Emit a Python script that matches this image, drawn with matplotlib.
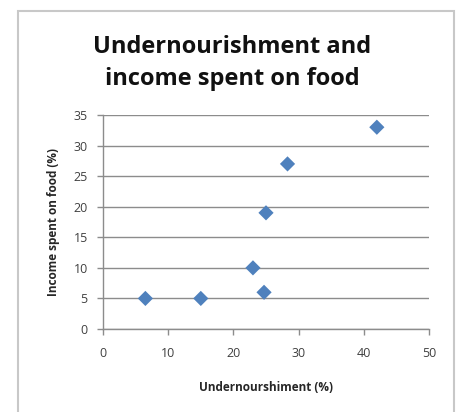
import matplotlib
matplotlib.use("Agg")
import matplotlib.pyplot as plt
from matplotlib.patches import Rectangle

undernourishment = [6.5, 15.0, 23.0, 24.7, 25.0, 28.3, 42.0]
income_food = [5, 5, 10, 6, 19, 27, 33]
x_ticks = [0, 10, 20, 30, 40, 50]
y_ticks = [0, 5, 10, 15, 20, 25, 30, 35]

title = "Undernourishment and\nincome spent on food"
xlabel = "Undernourshiment (%)"
ylabel = "Income spent on food (%)"

plt.rcParams['font.family'] = ['Open Sans', 'DejaVu Sans']

fig = plt.figure(figsize=(4.58, 4.12), dpi=100)
W, H = 458, 412

# chart border
fig.patches.append(Rectangle((18 / W, -0.01), (454 - 18) / W, (H - 11) / H + 0.01,
                             transform=fig.transFigure, fill=False,
                             edgecolor="#c8c8c8", linewidth=1.5))

ax = fig.add_axes([103 / W, 1 - 329 / H, (429 - 103) / W, (329 - 115) / H])
ax.scatter(undernourishment, income_food, marker="D", s=60, color="#4F81BD",
           edgecolors="none", zorder=3)
ax.set_xlim(0, 50)
ax.set_ylim(0, 35)
ax.set_xticks(x_ticks)
ax.set_yticks(y_ticks)
ax.yaxis.grid(True, color="#8c8c8c", linewidth=1)
ax.set_axisbelow(True)
for s in ["top", "right"]:
    ax.spines[s].set_visible(False)
for s in ["left", "bottom"]:
    ax.spines[s].set_color("#8c8c8c")
    ax.spines[s].set_linewidth(1)
ax.tick_params(axis="both", colors="#8c8c8c", length=4, width=1, labelcolor="#404040",
               labelsize=9)
ax.tick_params(axis="x", pad=9)
ax.tick_params(axis="y", pad=7)

ax.set_xlabel(xlabel, fontsize=8.5, fontweight="bold", color="#262626", labelpad=15)
ax.set_ylabel(ylabel, fontsize=8.5, fontweight="bold", color="#262626", labelpad=10)

fig.text(232 / W, 1 - 63 / H, title, ha="center", va="center", fontsize=17,
         fontweight="bold", color="#111111", linespacing=1.45)

fig.savefig("out.png", dpi=100)
